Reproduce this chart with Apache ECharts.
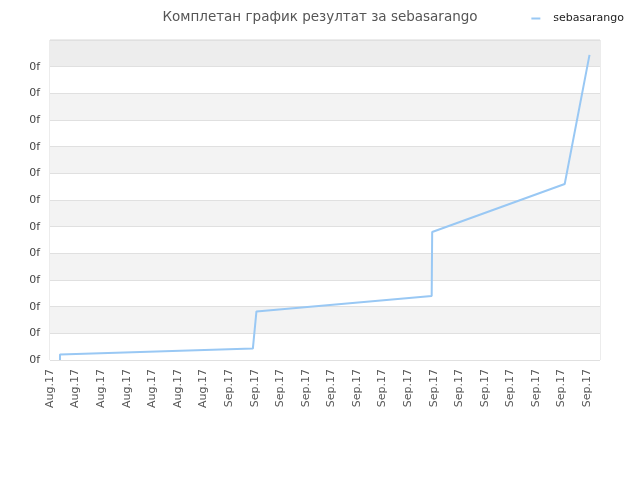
<!DOCTYPE html>
<html>
<head>
<meta charset="utf-8">
<script src="https://cdn.jsdelivr.net/npm/echarts@6/dist/echarts.min.js"></script>
<style>
  html, body { margin: 0; padding: 0; background: #fff; }
  #chart { width: 640px; height: 480px; }
</style>
</head>
<body>
<div id="chart"></div>
<script>
// ознаке на x оси (по једна на сваки подеок)
const tickLabels = [
  'Aug.17', 'Aug.17', 'Aug.17', 'Aug.17', 'Aug.17', 'Aug.17', 'Aug.17',
  'Sep.17', 'Sep.17', 'Sep.17', 'Sep.17', 'Sep.17', 'Sep.17', 'Sep.17',
  'Sep.17', 'Sep.17', 'Sep.17', 'Sep.17', 'Sep.17', 'Sep.17', 'Sep.17', 'Sep.17'
];

// тачке линије, очитане са слике (x у подеоцима, y у јединицама осе)
const pointX = [0.39, 0.39, 7.93, 8.07, 14.92, 14.94, 20.12, 21.09];
const pointY = [0, 0.21, 0.43, 1.82, 2.40, 4.80, 6.60, 11.44];

const seriesName = 'sebasarango';

const myChart = echarts.init(document.getElementById('chart'));

const bands = [];
for (let i = 0; i < 11; i++) bands.push(i % 2 === 0 ? '#ffffff' : '#f3f3f3');
bands.push('#ededed');

const option = {
  animation: false,
  title: {
    text: 'Комплетан график резултат за sebasarango',
    left: 'center',
    top: 5,
    textStyle: {
      fontFamily: 'DejaVu Sans',
      fontSize: 13.5,
      fontWeight: 'normal',
      color: '#555'
    }
  },
  legend: {
    data: [seriesName],
    right: 11,
    top: 8,
    icon: 'rect',
    itemWidth: 9,
    itemHeight: 2,
    itemGap: 6,
    textStyle: { fontFamily: 'DejaVu Sans', fontSize: 11, color: '#222', padding: [0, 0, 0, 8] }
  },
  grid: {
    left: 50,
    right: 40,
    top: 40,
    bottom: 120,
    show: true,
    borderColor: '#d9d9d9',
    borderWidth: 1
  },
  xAxis: {
    type: 'value',
    min: 0,
    max: 21.5,
    interval: 1,
    axisLine: { show: false },
    axisTick: { show: false },
    splitLine: { show: false },
    axisLabel: {
      rotate: 90,
      margin: 9,
      showMaxLabel: false,
      fontFamily: 'DejaVu Sans',
      fontSize: 11,
      color: '#555',
      formatter: function (v) {
        return tickLabels[Math.round(v)] || '';
      }
    }
  },
  yAxis: {
    type: 'value',
    min: 0,
    max: 12,
    interval: 1,
    axisLine: { show: false },
    axisTick: { show: false },
    splitLine: { lineStyle: { color: '#e0e0e0', width: 1 } },
    splitArea: { show: true, areaStyle: { color: bands } },
    axisLabel: {
      showMaxLabel: false,
      margin: 10,
      fontFamily: 'DejaVu Sans',
      fontSize: 11,
      color: '#444',
      formatter: function () { return '0f'; }
    }
  },
  series: [{
    name: seriesName,
    type: 'line',
    symbol: 'none',
    data: pointX.map((x, i) => [x, pointY[i]]),
    lineStyle: { color: '#99c8f4', width: 2 },
    itemStyle: { color: '#99c8f4' }
  }]
};

myChart.setOption(option);
</script>
</body>
</html>
